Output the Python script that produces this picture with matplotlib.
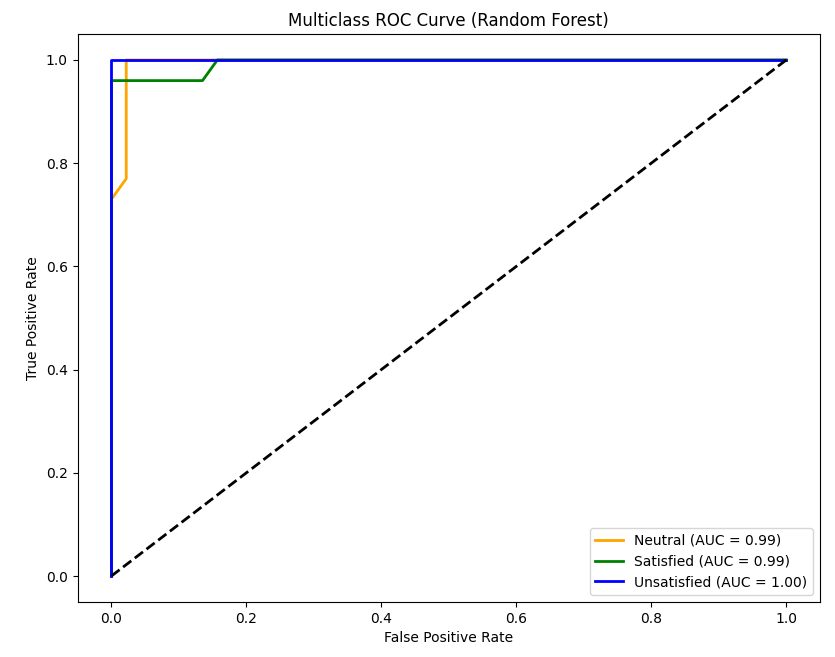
import matplotlib
matplotlib.use("Agg")
import matplotlib.pyplot as plt

labels = ["Neutral", "Satisfied", "Unsatisfied"]
aucs = [0.99, 0.99, 1.00]
colors = ["orange", "green", "blue"]

fpr_neutral = [0.0, 0.0, 0.022, 0.022, 1.0]
tpr_neutral = [0.0, 0.73, 0.77, 1.0, 1.0]
fpr_satisfied = [0.0, 0.0, 0.135, 0.157, 1.0]
tpr_satisfied = [0.0, 0.96, 0.96, 1.0, 1.0]
fpr_unsatisfied = [0.0, 0.0, 1.0]
tpr_unsatisfied = [0.0, 1.0, 1.0]

fprs = [fpr_neutral, fpr_satisfied, fpr_unsatisfied]
tprs = [tpr_neutral, tpr_satisfied, tpr_unsatisfied]

fig, ax = plt.subplots(figsize=(8.35, 6.57), dpi=100)
fig.subplots_adjust(left=0.093, right=0.982, top=0.948, bottom=0.084)

for fpr, tpr, lab, auc, c in zip(fprs, tprs, labels, aucs, colors):
    ax.plot(fpr, tpr, color=c, lw=2, label=f"{lab} (AUC = {auc:.2f})")
ax.plot([0, 1], [0, 1], "k--", lw=2)

ax.set_xlabel("False Positive Rate")
ax.set_ylabel("True Positive Rate")
ax.set_title("Multiclass ROC Curve (Random Forest)")
ax.legend(loc="lower right")

fig.savefig("out.png")
